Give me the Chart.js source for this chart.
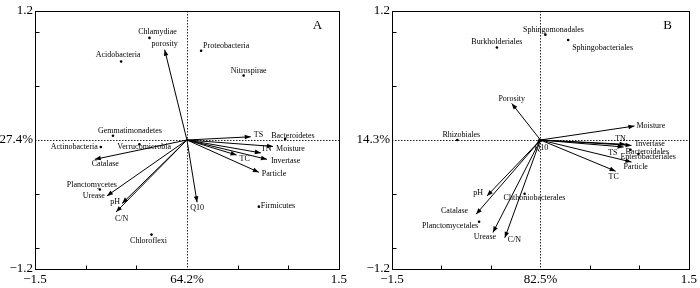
<!DOCTYPE html>
<html><head><meta charset="utf-8">
<script src="https://cdn.jsdelivr.net/npm/chart.js@4.4.1/dist/chart.umd.min.js"></script>
<style>
html,body{margin:0;padding:0;background:#fff;width:700px;height:288px;overflow:hidden}
.p{position:absolute;top:0;width:350px;height:288px}
</style></head><body>
<div class="p" style="left:0"><canvas id="cA" width="350" height="288"></canvas></div>
<div class="p" style="left:350px"><canvas id="cB" width="350" height="288"></canvas></div>
<script>
// ---------- data ----------
const xTickValues = [-1.5, -1, -0.5, 0, 0.5, 1, 1.5];
const yTickValues = [-1.2, -1, -0.5, 0, 0.5, 1, 1.2];
const xTickLabelsA = ['−1.5', '64.2%', '1.5'];   // at -1.5, 0, 1.5
const yTickLabelsA = ['−1.2', '27.4%', '1.2'];
const xTickLabelsB = ['−1.5', '82.5%', '1.5'];
const yTickLabelsB = ['−1.2', '14.3%', '1.2'];

// Panel A: environmental arrows
const envNamesA = ['porosity','TS','Moisture','TN','Invertase','TC','Particle','Q10','Catalase','Urease','pH','C/N'];
const envXA = [-0.22, 0.63, 0.85, 0.73, 0.79, 0.49, 0.71, 0.10, -0.91, -0.79, -0.64, -0.70];
const envYA = [ 0.84, 0.03,-0.06,-0.12,-0.18,-0.14,-0.30,-0.58, -0.18, -0.52, -0.59, -0.67];
// Panel A: taxa points
const spNamesA = ['Chlamydiae','Acidobacteria','Proteobacteria','Nitrospirae','Gemmatimonadetes','Bacteroidetes','Actinobacteria','Verrucomicrobia','Planctomycetes','Firmicutes','Chloroflexi'];
const spXA = [-0.37, -0.65, 0.14, 0.56, -0.73, 0.97, -0.85, -0.47, -0.86, 0.71, -0.35];
const spYA = [ 0.95,  0.73, 0.83, 0.60,  0.04, 0.01, -0.065, -0.04, -0.46, -0.62, -0.88];

// Panel B: environmental arrows
const envNamesB = ['Porosity','Moisture','TN','Invertase','TS','Particle','TC','Q10','pH','Catalase','Urease','C/N'];
const envXB = [-0.29, 0.95, 0.86, 0.92, 0.84, 0.92, 0.76, -0.04, -0.54, -0.65, -0.48, -0.36];
const envYB = [ 0.34, 0.13,-0.04,-0.05,-0.065,-0.205,-0.29,-0.04, -0.52, -0.69, -0.86, -0.91];
// Panel B: taxa points
const spNamesB = ['Sphingomonadales','Sphingobacteriales','Burkholderiales','Rhizobiales','Bacteroidales','Enterobacteriales','Chthoniobacterales','Planctomycetales'];
const spXB = [0.05, 0.28, -0.44, -0.84, 0.91, 0.99, -0.16, -0.62];
const spYB = [0.98, 0.93,  0.86,  0.00,-0.09,-0.13, -0.50, -0.76];

// ---------- label placement (pixel offsets, alignment) ----------
const labPosA = {
  'porosity':[0,-6,'center'], 'TS':[3,-2,'left'], 'Moisture':[3,2,'left'], 'TN':[0,-4,'left'],
  'Invertase':[4,2,'left'], 'TC':[3,4,'left'], 'Particle':[3,2,'left'], 'Q10':[0,6,'center'],
  'Catalase':[-3,5,'left'], 'Urease':[-2,0,'right'], 'pH':[-2,-2,'right'], 'C/N':[-1,7,'left'],
  'Chlamydiae':[8,-6,'center'], 'Acidobacteria':[-3,-7,'center'], 'Proteobacteria':[2,-5,'left'],
  'Nitrospirae':[5,-5,'center'], 'Gemmatimonadetes':[17,-5,'center'], 'Bacteroidetes':[-14,-3,'left'],
  'Actinobacteria':[-3,0,'right'], 'Verrucomicrobia':[-22,3,'left'], 'Planctomycetes':[-8,-5,'center'],
  'Firmicutes':[2,-1,'left'], 'Chloroflexi':[-3,6,'center']
};
const labPosB = {
  'Porosity':[0,-5,'center'], 'Moisture':[2,0,'left'], 'TN':[-5,-5,'center'], 'Invertase':[4,-1,'left'],
  'TS':[-6,6,'right'], 'Particle':[-8,5,'left'], 'TC':[-2,6,'center'], 'Q10':[-2,4,'left'],
  'pH':[-4,-3,'right'], 'Catalase':[-8,-3,'right'], 'Urease':[-8,4,'center'], 'C/N':[3,2,'left'],
  'Sphingomonadales':[8,-5,'center'], 'Sphingobacteriales':[4,8,'left'], 'Burkholderiales':[0,-6,'center'],
  'Rhizobiales':[4,-5,'center'], 'Bacteroidales':[-5,2,'left'], 'Enterobacteriales':[-18,3,'left'],
  'Chthoniobacterales':[-21,4,'left'], 'Planctomycetales':[-1,4,'right']
};

const SERIF = "'Liberation Serif','Times New Roman',serif";

const biplot = {
  id: 'biplot',
  beforeDatasetsDraw(chart, args, o) {
    const {ctx, chartArea: a, scales: {x, y}} = chart;
    const x0 = Math.round(x.getPixelForValue(0)) + 0.5;
    const y0 = Math.round(y.getPixelForValue(0)) + 0.5;
    ctx.save();
    ctx.strokeStyle = '#222'; ctx.lineWidth = 1; ctx.setLineDash([1.5, 1.5]);
    ctx.beginPath();
    ctx.moveTo(x0, a.top); ctx.lineTo(x0, a.bottom);
    ctx.moveTo(a.left, y0); ctx.lineTo(a.right, y0);
    ctx.stroke();
    ctx.restore();
  },
  afterDatasetsDraw(chart, args, o) {
    const {ctx, chartArea: a, scales: {x, y}} = chart;
    ctx.save();
    // arrow heads
    ctx.fillStyle = '#000';
    const ox = x.getPixelForValue(0), oy = y.getPixelForValue(0);
    o.envX.forEach((vx, i) => {
      const px = x.getPixelForValue(vx), py = y.getPixelForValue(o.envY[i]);
      const ang = Math.atan2(py - oy, px - ox), L = 6, W = 2.3;
      ctx.beginPath();
      ctx.moveTo(px, py);
      ctx.lineTo(px - L*Math.cos(ang) + W*Math.sin(ang), py - L*Math.sin(ang) - W*Math.cos(ang));
      ctx.lineTo(px - L*Math.cos(ang) - W*Math.sin(ang), py - L*Math.sin(ang) + W*Math.cos(ang));
      ctx.closePath(); ctx.fill();
    });
    // labels
    ctx.font = '8px ' + SERIF;
    ctx.textBaseline = 'middle';
    const lab = (name, vx, vy) => {
      const p = o.pos[name] || [3, 0, 'left'];
      ctx.textAlign = p[2];
      ctx.fillText(name, x.getPixelForValue(vx) + p[0], y.getPixelForValue(vy) + p[1]);
    };
    o.envNames.forEach((n, i) => lab(n, o.envX[i], o.envY[i]));
    o.spNames.forEach((n, i) => lab(n, o.spX[i], o.spY[i]));
    // frame
    ctx.strokeStyle = '#000'; ctx.lineWidth = 1;
    const L = Math.round(a.left) + 0.5, T = Math.round(a.top) + 0.5, R = Math.round(a.right) + 0.5, B = Math.round(a.bottom) + 0.5;
    ctx.strokeRect(L, T, R - L, B - T);
    // inward tick marks
    ctx.beginPath();
    [-1, -0.5, 0.5, 1].forEach(v => {
      const px = Math.round(x.getPixelForValue(v)) + 0.5;
      ctx.moveTo(px, B); ctx.lineTo(px, B - 4);
      const py = Math.round(y.getPixelForValue(v)) + 0.5;
      ctx.moveTo(L, py); ctx.lineTo(L + 4, py);
    });
    ctx.stroke();
    // panel letter
    ctx.font = '13px ' + SERIF; ctx.textAlign = 'center';
    ctx.fillText(o.letter, R - 22, T + 14);
    ctx.restore();
  }
};

function makeChart(id, cfg) {
  const arrowData = [];
  cfg.envX.forEach((vx, i) => {
    arrowData.push({x: 0, y: 0}, {x: vx, y: cfg.envY[i]}, {x: 0, y: null});
  });
  const pts = cfg.spX.map((vx, i) => ({x: vx, y: cfg.spY[i]}));
  const tickFont = {family: SERIF, size: 13};
  const pick = (labels) => (v) => v === -1.5 || v === -1.2 ? labels[0] : v === 0 ? labels[1] : (v === 1.5 || v === 1.2) ? labels[2] : '';
  return new Chart(document.getElementById(id), {
    type: 'scatter',
    data: {
      datasets: [
        {type: 'line', data: arrowData, borderColor: '#000', borderWidth: 1, pointRadius: 0, spanGaps: false, fill: false, tension: 0},
        {type: 'scatter', data: pts, backgroundColor: '#000', borderWidth: 0, pointRadius: 1.3}
      ]
    },
    options: {
      responsive: false, animation: false, devicePixelRatio: 1,
      layout: {padding: {top: 11, right: 9, left: 0, bottom: 0}},
      plugins: {
        legend: {display: false}, tooltip: {enabled: false},
        biplot: {envNames: cfg.envNames, envX: cfg.envX, envY: cfg.envY, spNames: cfg.spNames, spX: cfg.spX, spY: cfg.spY, pos: cfg.pos, letter: cfg.letter}
      },
      scales: {
        x: {
          type: 'linear', min: -1.5, max: 1.5,
          afterBuildTicks: s => { s.ticks = xTickValues.map(v => ({value: v})); },
          afterFit: s => { s.height = 19; },
          ticks: {autoSkip: false, maxRotation: 0, color: '#000', font: tickFont, padding: 3, callback: pick(cfg.xLabels)},
          grid: {display: false, drawTicks: false, tickLength: 0}, border: {display: false}
        },
        y: {
          type: 'linear', min: -1.2, max: 1.2,
          afterBuildTicks: s => { s.ticks = yTickValues.map(v => ({value: v})); },
          afterFit: s => { s.width = cfg.yWidth; },
          ticks: {autoSkip: false, color: '#000', font: tickFont, padding: 2, callback: pick(cfg.yLabels)},
          grid: {display: false, drawTicks: false, tickLength: 0}, border: {display: false}
        }
      }
    },
    plugins: [biplot]
  });
}

makeChart('cA', {envNames: envNamesA, envX: envXA, envY: envYA, spNames: spNamesA, spX: spXA, spY: spYA,
  pos: labPosA, letter: 'A', xLabels: xTickLabelsA, yLabels: yTickLabelsA, yWidth: 35});
makeChart('cB', {envNames: envNamesB, envX: envXB, envY: envYB, spNames: spNamesB, spX: spXB, spY: spYB,
  pos: labPosB, letter: 'B', xLabels: xTickLabelsB, yLabels: yTickLabelsB, yWidth: 42});
</script>
</body></html>
